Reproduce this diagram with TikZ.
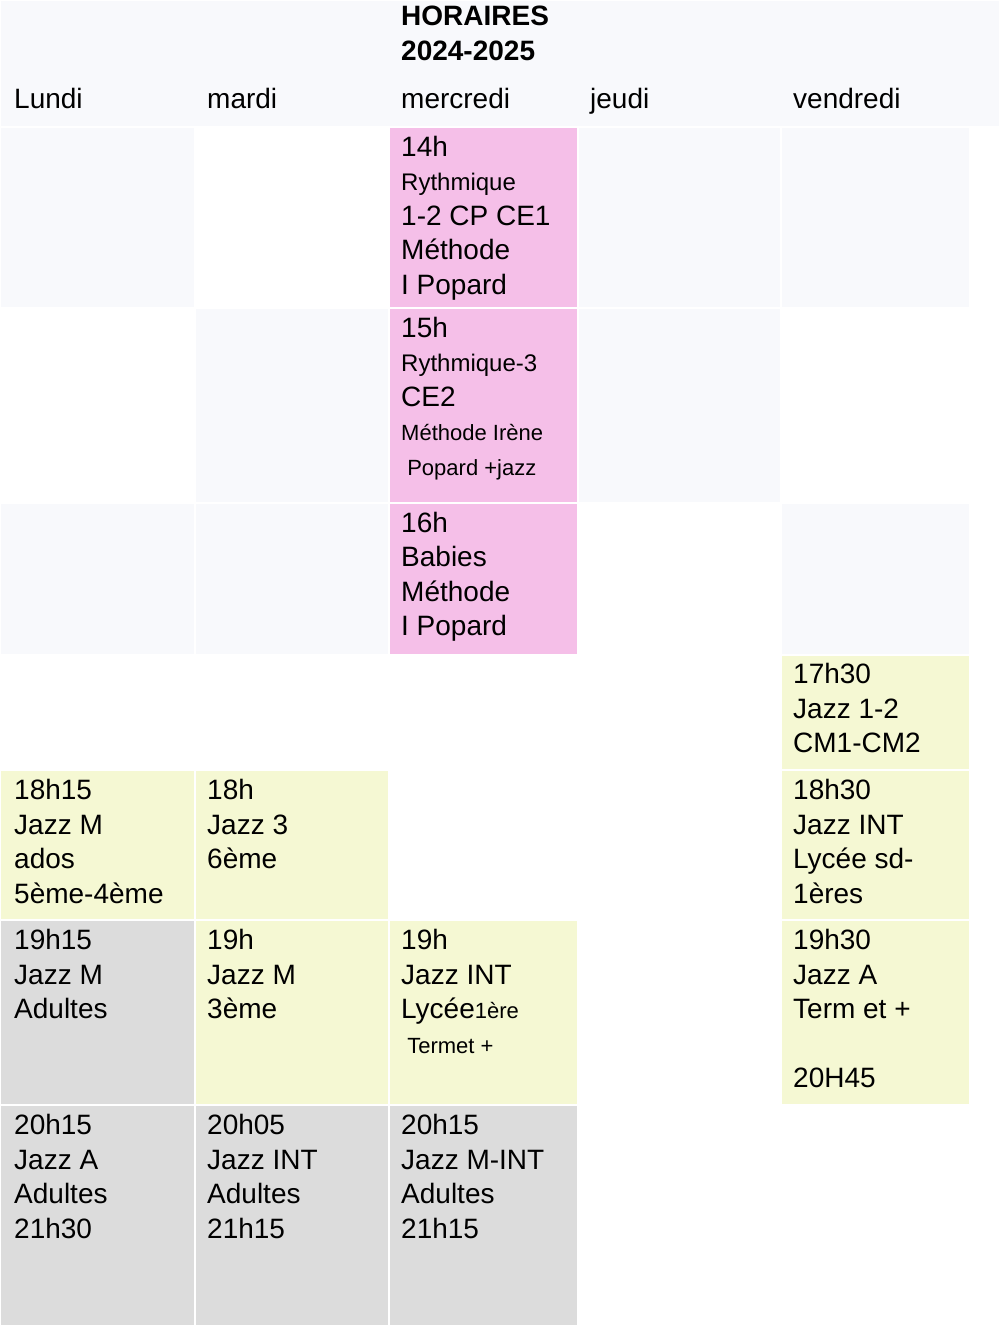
\documentclass[tikz,border=0pt]{standalone}
\usepackage{fontspec}
\setmainfont{Liberation Sans}
\usetikzlibrary{positioning}
\definecolor{bgcell}{HTML}{F8F9FC}
\definecolor{pinkcell}{HTML}{F5BFE8}
\definecolor{yellowcell}{HTML}{F5F8D3}
\definecolor{greycell}{HTML}{DCDCDC}
\newcommand{\slot}[5]{\fill[#5, draw=white, line width=1.2pt] (#1,#2) rectangle (#3,#4);}
\begin{document}
\begin{tikzpicture}[x=1pt, y=-1pt,
  txt/.style={anchor=north west, align=left, inner sep=0pt, font=\fontsize{28}{34.5}\selectfont},
  sml/.style={font=\fontsize{24}{29}\selectfont}]
\useasboundingbox (0,0) rectangle (1000,1326);
\fill[white] (0,0) rectangle (1000,1326);

% light background cells
\slot{0}{0}{1000}{127}{bgcell}
\slot{0}{127}{195}{308}{bgcell}
\slot{578}{127}{781}{308}{bgcell}
\slot{781}{127}{970}{308}{bgcell}
\slot{195}{308}{389}{503}{bgcell}
\slot{578}{308}{781}{503}{bgcell}
\slot{0}{503}{195}{655}{bgcell}
\slot{195}{503}{389}{655}{bgcell}
\slot{781}{503}{970}{655}{bgcell}

% coloured slots
\slot{389}{127}{578}{308}{pinkcell}
\slot{389}{308}{578}{503}{pinkcell}
\slot{389}{503}{578}{655}{pinkcell}
\slot{781}{655}{970}{770}{yellowcell}
\slot{0}{770}{195}{920}{yellowcell}
\slot{195}{770}{389}{920}{yellowcell}
\slot{781}{770}{970}{920}{yellowcell}
\slot{0}{920}{195}{1105}{greycell}
\slot{195}{920}{389}{1105}{yellowcell}
\slot{389}{920}{578}{1105}{yellowcell}
\slot{781}{920}{970}{1105}{yellowcell}
\slot{0}{1105}{195}{1326}{greycell}
\slot{195}{1105}{389}{1326}{greycell}
\slot{389}{1105}{578}{1326}{greycell}

% title and days
\node[txt, font=\bfseries\fontsize{28}{34.5}\selectfont] (title) at (401,6) {HORAIRES\\2024-2025};
\node[txt] (lundi) at (14,88) {Lundi};
\node[txt] (mardi) at (207,88) {mardi};
\node[txt] (mercredi) at (401,88) {mercredi};
\node[txt] (jeudi) at (590,88) {jeudi};
\node[txt] (vendredi) at (793,88) {vendredi};

% mercredi
\node[txt] (me14) at (401,136) {14h\\{\fontsize{24}{32}\selectfont Rythmique}\\1-2 CP CE1\\Méthode\\I Popard};
\node[txt] (me15) at (401,317) {15h\\{\fontsize{24}{32}\selectfont Rythmique-3}\\CE2\\{\fontsize{22}{29}\selectfont Méthode Irène}\\{\fontsize{22}{29}\selectfont \ Popard +jazz}};
\node[txt] (me16) at (401,512) {16h\\Babies\\Méthode\\I Popard};
\node[txt] (me19) at (401,929) {19h\\Jazz INT\\Lycée{\fontsize{22}{29}\selectfont 1ère}\\{\fontsize{22}{29}\selectfont \ Termet +}};
\node[txt] (me20) at (401,1114) {20h15\\Jazz M-INT\\Adultes\\21h15};

% lundi
\node[txt] (lu18) at (14,779) {18h15\\Jazz M\\ados\\5ème-4ème};
\node[txt] (lu19) at (14,929) {19h15\\Jazz M\\Adultes};
\node[txt] (lu20) at (14,1114) {20h15\\Jazz A\\Adultes\\21h30};

% mardi
\node[txt] (ma18) at (207,779) {18h\\Jazz 3\\6ème};
\node[txt] (ma19) at (207,929) {19h\\Jazz M\\3ème};
\node[txt] (ma20) at (207,1114) {20h05\\Jazz INT\\Adultes\\21h15};

% vendredi
\node[txt] (ve17) at (793,663) {17h30\\Jazz 1-2\\CM1-CM2};
\node[txt] (ve18) at (793,779) {18h30\\Jazz INT\\Lycée sd-\\1ères};
\node[txt] (ve19) at (793,929) {19h30\\Jazz A\\Term et +\\[34.5pt]20H45};
\end{tikzpicture}
\end{document}
